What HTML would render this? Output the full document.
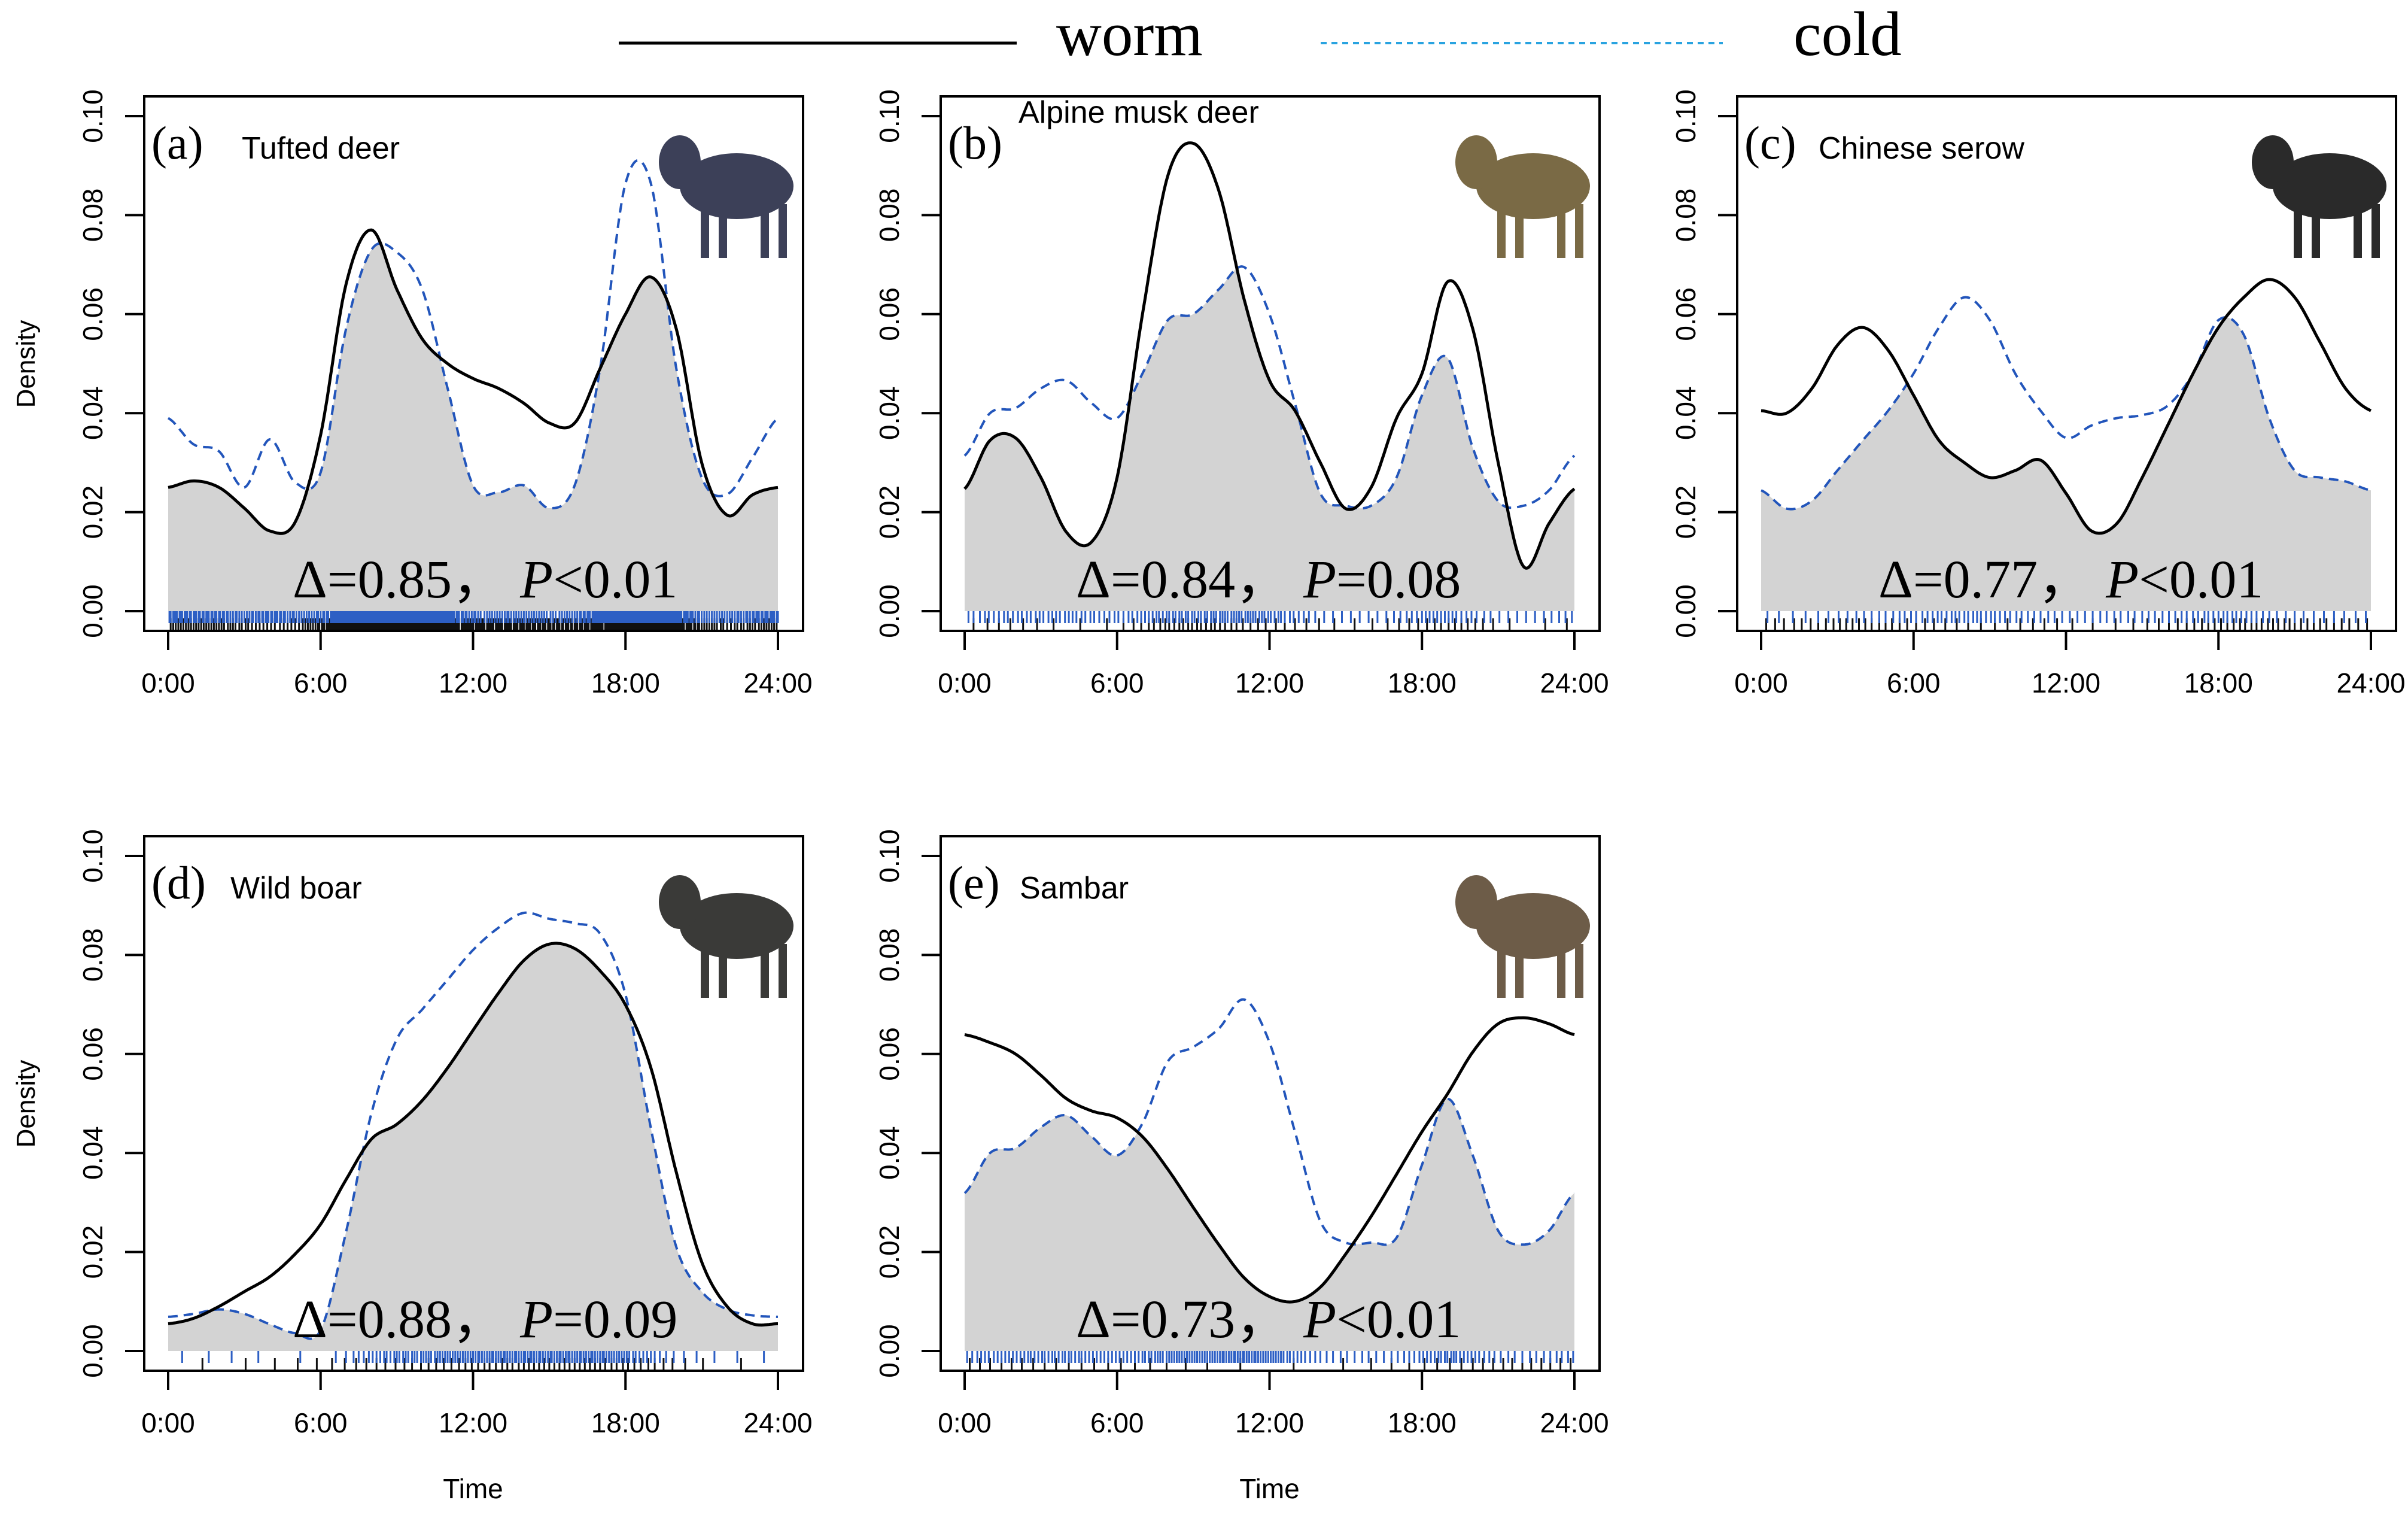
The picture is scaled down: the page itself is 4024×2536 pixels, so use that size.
<!DOCTYPE html>
<html><head><meta charset="utf-8"><style>
html,body{margin:0;padding:0;background:#fff}
svg{display:block}
text{font-family:"Liberation Sans",sans-serif}
.serif{font-family:"Liberation Serif",serif}
</style></head><body>
<svg id="chart" width="4024" height="2536" viewBox="0 0 4024 2536" xmlns="http://www.w3.org/2000/svg">
<g>
<line x1="1034" y1="72" x2="1699" y2="72" stroke="#000" stroke-width="5"/>
<text class="serif" x="1765" y="92" font-size="105">worm</text>
<line x1="2207" y1="72" x2="2879" y2="72" stroke="#29a3e0" stroke-width="4" stroke-dasharray="10 8"/>
<text class="serif" x="2997" y="92" font-size="105">cold</text>
</g>
</svg>
<script>
const hours = [0,1,2,3,4,5,6,7,8,9,10,11,12,13,14,15,16,17,18,19,20,21,22,23,24];
const panelIds = ['a','b','c','d','e'];
const panelNames = ['Tufted deer','Alpine musk deer','Chinese serow','Wild boar','Sambar'];
const overlapLabels = ['Δ=0.85，','Δ=0.84，','Δ=0.77，','Δ=0.88，','Δ=0.73，'];
const pLabels = ['P<0.01','P=0.08','P<0.01','P=0.09','P<0.01'];
const yTicks = [0,0.02,0.04,0.06,0.08,0.10];
const yTickLabels = ['0.00','0.02','0.04','0.06','0.08','0.10'];
const xTicks = [0,6,12,18,24];
const xTickLabels = ['0:00','6:00','12:00','18:00','24:00'];
const warmA = [0.025,0.0263,0.025,0.0208,0.0162,0.018,0.0356,0.066,0.077,0.065,0.055,0.050,0.047,0.045,0.042,0.038,0.038,0.049,0.060,0.0675,0.057,0.030,0.0194,0.0235,0.025];
const coldA = [0.039,0.0337,0.0323,0.025,0.0347,0.026,0.028,0.057,0.073,0.0725,0.065,0.045,0.0254,0.024,0.0254,0.0208,0.0254,0.049,0.0864,0.0864,0.049,0.027,0.0236,0.031,0.039];
const warmB = [0.0247,0.0345,0.035,0.027,0.016,0.014,0.027,0.060,0.088,0.0945,0.085,0.063,0.0466,0.0405,0.030,0.0207,0.025,0.039,0.048,0.0665,0.057,0.030,0.009,0.0177,0.0247];
const coldB = [0.0314,0.040,0.041,0.045,0.0466,0.042,0.039,0.048,0.0588,0.060,0.065,0.0695,0.060,0.042,0.0238,0.0213,0.0213,0.027,0.0436,0.0512,0.033,0.0222,0.0213,0.0244,0.0314];
const warmC = [0.0405,0.040,0.045,0.0537,0.0573,0.0527,0.0436,0.0345,0.030,0.027,0.0284,0.0305,0.0238,0.0162,0.0177,0.027,0.0375,0.048,0.0573,0.0634,0.067,0.0634,0.0543,0.045,0.0405];
const coldC = [0.0244,0.0207,0.0223,0.0284,0.0345,0.0405,0.048,0.0573,0.0634,0.0588,0.048,0.0405,0.035,0.0375,0.039,0.0396,0.0415,0.048,0.0588,0.0558,0.039,0.0284,0.027,0.0262,0.0244];
const warmD = [0.0055,0.0066,0.009,0.012,0.015,0.0196,0.0256,0.0346,0.0428,0.0458,0.0506,0.0572,0.0648,0.0723,0.0789,0.0822,0.0813,0.0768,0.0699,0.0572,0.0361,0.018,0.009,0.0055,0.0055];
const coldD = [0.0069,0.0075,0.0084,0.0075,0.0054,0.0036,0.0042,0.024,0.048,0.063,0.069,0.075,0.081,0.0855,0.0885,0.0873,0.0864,0.0843,0.072,0.045,0.021,0.012,0.0084,0.0072,0.0069];
const warmE = [0.0639,0.0623,0.060,0.0557,0.051,0.0485,0.0471,0.0433,0.0367,0.029,0.0215,0.0148,0.011,0.010,0.0129,0.0196,0.0272,0.0357,0.0443,0.0519,0.0604,0.0661,0.0673,0.0661,0.0639];
const coldE = [0.0319,0.040,0.041,0.0452,0.0476,0.0433,0.0395,0.046,0.0585,0.0614,0.0651,0.071,0.0623,0.0443,0.0262,0.0219,0.0219,0.0229,0.0376,0.0509,0.0395,0.0243,0.0215,0.0243,0.0319];
const warmSeries = [warmA,warmB,warmC,warmD,warmE];
const coldSeries = [coldA,coldB,coldC,coldD,coldE];
const rugCountsWarm = [380,60,70,60,40];
const rugCountsCold = [420,130,90,130,160];

const NS='http://www.w3.org/2000/svg';
const svg=document.getElementById('chart');
function mk(tag,attrs,parent){const e=document.createElementNS(NS,tag);for(const k in attrs)e.setAttribute(k,attrs[k]);(parent||svg).appendChild(e);return e;}
function interp(arr,h){ // Catmull-Rom on hourly values
  let i=Math.floor(h); if(i>=24)i=23; const t=h-i;
  const p0=arr[Math.max(i-1,0)],p1=arr[i],p2=arr[i+1],p3=arr[Math.min(i+2,24)];
  return 0.5*((2*p1)+(-p0+p2)*t+(2*p0-5*p1+4*p2-p3)*t*t+(-p0+3*p1-3*p2+p3)*t*t*t);
}
function animal(g,idx,bx,by){
  const cols=['#3c4058','#7a6a45','#2a2a2a','#3a3a38','#6d5c48'];
  const c=cols[idx];
  const ax=bx+880, ay=by+40;
  mk('ellipse',{cx:ax+110,cy:ay+110,rx:95,ry:55,fill:c},g);
  mk('ellipse',{cx:ax+15,cy:ay+70,rx:35,ry:45,fill:c},g);
  for(const dx of [50,80,150,180]) mk('rect',{x:ax+dx,y:ay+140,width:14,height:90,fill:c},g);
}
panelIds.forEach((id,i)=>{
  const col=i<3?i:i-3, row=i<3?0:1;
  const ox=col*1331, oy=row*1236;
  const bx=241+ox, by=161+oy, bw=1101, bh=893;
  const x0=281+ox, x1=1300+ox, y0=1021+oy, y10=194+oy;
  const X=h=>x0+(x1-x0)*h/24, Y=v=>y0+(y10-y0)*v/0.10;
  const g=mk('g',{});
  
  
  const w=warmSeries[i], c=coldSeries[i];
  const N=480; let fill='M'+X(0)+','+Y(0), pw='', pc='';
  for(let k=0;k<=N;k++){const h=24*k/N;const a=interp(w,h),b=interp(c,h);
    fill+=' L'+X(h).toFixed(1)+','+Y(Math.min(a,b)).toFixed(1);
    pw+=(k?' L':'M')+X(h).toFixed(1)+','+Y(a).toFixed(1);
    pc+=(k?' L':'M')+X(h).toFixed(1)+','+Y(b).toFixed(1);}
  fill+=' L'+X(24)+','+Y(0)+' Z';
  const f=mk('path',{d:fill,fill:'#d3d3d3'},g);
  
  
  // rugs
  function rug(arr,n,yA,yB,color,name){
    const cum=[0];for(let k=1;k<=N;k++){cum.push(cum[k-1]+Math.max(interp(arr,24*k/N),0));}
    const tot=cum[N];let k=0;let d='';
    for(let j=0;j<n;j++){const q=(j+0.5)/n*tot;while(cum[k]<q&&k<N)k++;const xx=X(24*k/N).toFixed(1);d+='M'+xx+','+yA+'V'+yB;}
    const p=mk('path',{d:d,stroke:color,'stroke-width':3},g);
    
    
  }
  rug(w,rugCountsWarm[i],y0+12,y0+33,'#111','rug-warm');
  rug(c,rugCountsCold[i],y0,y0+20,'#2d5fc4','rug-cold');
  const lc=mk('path',{d:pc,fill:'none',stroke:'#2255bb','stroke-width':4,'stroke-dasharray':'16 10'},g);
  
  
  const lw=mk('path',{d:pw,fill:'none',stroke:'#000','stroke-width':5},g);
  
  
  const box=mk('rect',{x:bx,y:by,width:bw,height:bh,fill:'none',stroke:'#000','stroke-width':4},g);
  
  
  yTicks.forEach((v,j)=>{
    mk('line',{x1:bx-32,x2:bx,y1:Y(v),y2:Y(v),stroke:'#000','stroke-width':4},g);
    const t=mk('text',{x:0,y:0,'font-size':46,'text-anchor':'middle',transform:`translate(${bx-70},${Y(v)}) rotate(-90)`},g);
    t.textContent=yTickLabels[j];
    
    
  });
  xTicks.forEach((h,j)=>{
    mk('line',{x1:X(h),x2:X(h),y1:by+bh,y2:by+bh+32,stroke:'#000','stroke-width':4},g);
    const t=mk('text',{x:X(h),y:by+bh+103,'font-size':46,'text-anchor':'middle'},g);
    t.textContent=xTickLabels[j];
    
    
  });
  if(col===0){const t=mk('text',{x:0,y:0,'font-size':44,'text-anchor':'middle',transform:`translate(58,${608+oy}) rotate(-90)`},g);
    t.textContent='Density';
    
    }
  if(row===1){const t=mk('text',{x:X(12),y:2503,'font-size':46,'text-anchor':'middle'},g);
    t.textContent='Time';
    
    }
  const pl=mk('text',{x:bx+12,y:by+104,'font-size':78,class:'serif'},g);
  pl.textContent='('+id+')';
  
  
  const nm=mk('text',{x:bx+(i===0?163:i===3?144:i===1?130:i===4?132:136),y:by+(i===1?44:104),'font-size':52},g);
  nm.textContent=panelNames[i];
  
  
  const st=mk('text',{x:bx+(i===1||i===4?226:i===2?236:248),y:by+837,'font-size':90,class:'serif'},g);
  
  
  const s1=mk('tspan',{},st);s1.textContent=overlapLabels[i];
  const s2=mk('tspan',{'font-style':'italic',dx:24},st);s2.textContent=pLabels[i].slice(0,1);
  const s3=mk('tspan',{},st);s3.textContent=pLabels[i].slice(1);
  const an=mk('g',{},g);
  
  
  animal(an,i,bx,by);
});
</script>
</body></html>
